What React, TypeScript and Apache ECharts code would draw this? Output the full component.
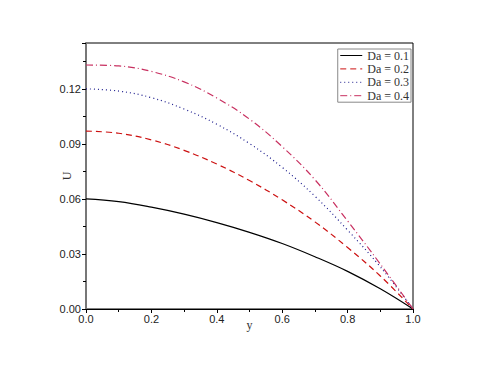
import React, { useEffect, useRef } from "react";
import * as echarts from "echarts";

const yPos = [0, 0.1, 0.2, 0.3, 0.4, 0.5, 0.6, 0.7, 0.8, 0.9, 1.0];
const da01 = [0.06, 0.0585, 0.0555, 0.0517, 0.0471, 0.0418, 0.0357, 0.0285, 0.0205, 0.011, 0];
const da02 = [0.097, 0.0958, 0.0922, 0.0865, 0.079, 0.07, 0.0595, 0.0475, 0.0335, 0.018, 0];
const da03 = [0.12, 0.1188, 0.1152, 0.109, 0.1007, 0.0902, 0.0772, 0.0615, 0.043, 0.023, 0];
const da04 = [0.133, 0.1325, 0.1295, 0.1238, 0.115, 0.1035, 0.0885, 0.0705, 0.048, 0.0245, 0];
const seriesNames = ["Da = 0.1", "Da = 0.2", "Da = 0.3", "Da = 0.4"];

export default function App() {
  const ref = useRef<HTMLDivElement>(null);
  useEffect(() => {
    if (!ref.current) return;
    const chart = echarts.init(ref.current, null, { renderer: "svg" });
    const mk = (vals: number[]) => yPos.map((x, i) => [x, vals[i]]);
    const styles: any[] = [
      { color: "#000000", type: "solid" },
      { color: "#cc1111", type: [6, 4] },
      { color: "#1a1a8c", type: [1, 3] },
      { color: "#c83060", type: [7, 3, 1, 3] },
    ];
    const datas = [da01, da02, da03, da04];
    chart.setOption({
      animation: false,
      backgroundColor: "#ffffff",
      grid: {
        left: 86,
        right: 67,
        top: 43,
        bottom: 62,
        show: true,
        borderColor: "#000",
        borderWidth: 1,
        backgroundColor: "transparent",
      },
      legend: {
        orient: "vertical",
        right: 69,
        top: 49,
        itemWidth: 22,
        itemHeight: 10,
        itemGap: 0.4,
        padding: [0, 2, 0, 2],
        borderColor: "#888",
        borderWidth: 1,
        itemStyle: { opacity: 0 },
        lineStyle: { width: 1 },
        textStyle: { fontFamily: "Liberation Serif", fontSize: 12, lineHeight: 13, color: "#333" },
        data: seriesNames,
      },
      xAxis: {
        type: "value",
        min: 0,
        max: 1,
        interval: 0.2,
        name: "y",
        nameLocation: "middle",
        nameGap: 10,
        nameMoveOverlap: false,
        nameTextStyle: { fontFamily: "Liberation Serif", fontSize: 12, color: "#333" },
        axisLine: { show: true, lineStyle: { color: "#000", width: 1 } },
        axisTick: { show: true, length: 4, lineStyle: { color: "#000" } },
        minorTick: { show: true, splitNumber: 2, length: 3, lineStyle: { color: "#000" } },
        splitLine: { show: false },
        axisLabel: {
          fontFamily: "Liberation Sans",
          fontSize: 11,
          color: "#222",
          margin: 4,
          formatter: (v: number) => v.toFixed(1),
        },
      },
      yAxis: {
        type: "value",
        min: 0,
        max: 0.145,
        interval: 0.03,
        name: "U",
        nameLocation: "middle",
        nameRotate: 90,
        nameGap: 13,
        nameMoveOverlap: false,
        nameTextStyle: { fontFamily: "Liberation Serif", fontSize: 12, color: "#333" },
        axisLine: { show: true, lineStyle: { color: "#777", width: 2 } },
        axisTick: { show: true, length: 4, lineStyle: { color: "#000" } },
        minorTick: { show: true, splitNumber: 2, length: 3, lineStyle: { color: "#000" } },
        splitLine: { show: false },
        axisLabel: {
          fontFamily: "Liberation Sans",
          fontSize: 11,
          color: "#222",
          margin: 5,
          showMaxLabel: false,
          formatter: (v: number) => v.toFixed(2),
        },
      },
      series: datas.map((d, i) => ({
        name: seriesNames[i],
        type: "line",
        data: mk(d),
        smooth: 0.4,
        symbol: "none",
        showSymbol: false,
        lineStyle: { color: styles[i].color, type: styles[i].type, width: 1.2 },
        itemStyle: { color: styles[i].color },
      })),
    });
    return () => chart.dispose();
  }, []);
  return <div ref={ref} style={{ width: 480, height: 371, position: "absolute", left: 0, top: 0 }} />;
}
